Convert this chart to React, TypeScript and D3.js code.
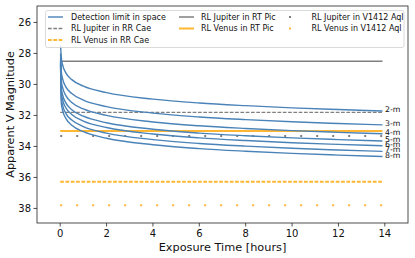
import React from "react";
import * as d3 from "d3";

const times = [1 / 60, 0.05, 0.1, 0.25, 0.5, 1, 2, 4, 6, 8, 10, 12, 13.9];
const curveNames = ["2-m", "3-m", "4-m", "5-m", "6-m", "7-m", "8-m"];
const curve2m = [27.5, 28.29, 28.71, 29.27, 29.69, 30.11, 30.53, 30.95, 31.2, 31.37, 31.51, 31.62, 31.71];
const curve3m = [28.0, 29.19, 29.61, 30.17, 30.59, 31.01, 31.43, 31.85, 32.1, 32.27, 32.41, 32.52, 32.61];
const curve4m = [28.3, 29.76, 30.18, 30.74, 31.16, 31.58, 32.0, 32.42, 32.67, 32.84, 32.98, 33.09, 33.18];
const curve5m = [28.5, 30.23, 30.65, 31.21, 31.63, 32.05, 32.47, 32.89, 33.14, 33.31, 33.45, 33.56, 33.65];
const curve6m = [28.6, 30.54, 30.96, 31.52, 31.94, 32.36, 32.78, 33.2, 33.45, 33.62, 33.76, 33.87, 33.96];
const curve7m = [28.7, 30.9, 31.32, 31.88, 32.3, 32.72, 33.14, 33.56, 33.81, 33.98, 34.12, 34.23, 34.32];
const curve8m = [28.8, 31.23, 31.65, 32.21, 32.63, 33.05, 33.47, 33.89, 34.14, 34.31, 34.45, 34.56, 34.65];
const curves = [curve2m, curve3m, curve4m, curve5m, curve6m, curve7m, curve8m];

const refSpan = [0, 13.9];
const jupiterRRCae = 31.8;
const venusRRCae = 36.28;
const jupiterRTPic = 28.5;
const venusRTPic = 33.0;
const jupiterV1412 = 33.33;
const venusV1412 = 37.8;

const xTicks = [0, 2, 4, 6, 8, 10, 12, 14];
const yTicks = [26, 28, 30, 32, 34, 36, 38];

const W = 415;
const H = 258;
const L = 37, R = 408, T = 6, B = 223;
const BLUE = "#4a83b8";
const GREY = "#808080";
const ORANGE = "#ffb733";
const FONT = "DejaVu Sans, sans-serif";

export default function App() {
  const x = d3.scaleLinear().domain([-1, 15]).range([L, R]);
  const y = d3.scaleLinear().domain([24.94, 38.94]).range([T, B]);
  const line = d3
    .line<number>()
    .x((_, i) => x(times[i]))
    .y((d) => y(d))
    .curve(d3.curveMonotoneX);

  const hline = (v: number) => ({ x1: x(refSpan[0]), x2: x(refSpan[1]), y1: y(v), y2: y(v) });

  const dotPeriod = x(0.69) - x(0);

  const legendRows = [17, 28.5, 40];
  return (
    <svg width={W} height={H} style={{ position: "absolute", left: 0, top: 0 }} fontFamily={FONT}>
      <rect x={0} y={0} width={W} height={H} fill="white" />
      {/* reference lines */}
      <line {...hline(jupiterRTPic)} stroke={GREY} strokeWidth={1.5} />
      <line {...hline(jupiterRRCae)} stroke={GREY} strokeWidth={1.3} strokeDasharray="3.7 1.6" />
      <line {...hline(venusRRCae)} stroke={ORANGE} strokeWidth={2} strokeDasharray="3.7 1.6" />
      <line {...hline(venusRTPic)} stroke={ORANGE} strokeWidth={2} />
      <line {...hline(jupiterV1412)} stroke={GREY} strokeWidth={2} strokeDasharray={`2 ${dotPeriod - 2}`} />
      <line {...hline(venusV1412)} stroke={ORANGE} strokeWidth={2} strokeDasharray={`2 ${dotPeriod - 2}`} />
      {/* curves */}
      {curves.map((c, i) => (
        <path key={i} d={line(c) || ""} fill="none" stroke={BLUE} strokeWidth={1.4} />
      ))}
      {curves.map((c, i) => (
        <text key={"l" + i} x={x(13.9) + 2.5} y={y(c[c.length - 1]) - 1.5} fontSize={7.8} dominantBaseline="central" fill="#111">
          {curveNames[i]}
        </text>
      ))}
      {/* spines */}
      <rect x={L} y={T} width={R - L} height={B - T} fill="none" stroke="#222" strokeWidth={0.8} />
      {/* x ticks */}
      {xTicks.map((t) => (
        <g key={"x" + t}>
          <line x1={x(t)} x2={x(t)} y1={B} y2={B + 3.5} stroke="#222" strokeWidth={0.8} />
          <text x={x(t)} y={B + 13.5} fontSize={10} textAnchor="middle" fill="#111">{t}</text>
        </g>
      ))}
      {yTicks.map((t) => (
        <g key={"y" + t}>
          <line x1={L - 3.5} x2={L} y1={y(t)} y2={y(t)} stroke="#222" strokeWidth={0.8} />
          <text x={L - 6} y={y(t)} fontSize={10} textAnchor="end" dominantBaseline="central" fill="#111">{t}</text>
        </g>
      ))}
      <text x={(L + R) / 2} y={251} fontSize={11.3} textAnchor="middle" fill="#111">Exposure Time [hours]</text>
      <text transform={`translate(10,${(T + B) / 2}) rotate(-90)`} fontSize={11.3} textAnchor="middle" dominantBaseline="central" fill="#111">Apparent V Magnitude</text>
      {/* legend */}
      <rect x={45.5} y={10.5} width={358.5} height={37} rx={2} fill="white" fillOpacity={0.8} stroke="#d0d0d0" strokeWidth={0.8} />
      <g fontSize={8} fill="#111">
        <line x1={48} x2={63} y1={legendRows[0]} y2={legendRows[0]} stroke={BLUE} strokeWidth={1.4} />
        <text x={71} y={legendRows[0]} dominantBaseline="central">Detection limit in space</text>
        <line x1={48} x2={63} y1={legendRows[1]} y2={legendRows[1]} stroke={GREY} strokeWidth={1.3} strokeDasharray="3.7 1.6" />
        <text x={71} y={legendRows[1]} dominantBaseline="central">RL Jupiter in RR Cae</text>
        <line x1={48} x2={63} y1={legendRows[2]} y2={legendRows[2]} stroke={ORANGE} strokeWidth={2} strokeDasharray="3.7 1.6" />
        <text x={71} y={legendRows[2]} dominantBaseline="central">RL Venus in RR Cae</text>

        <line x1={179} x2={194} y1={legendRows[0]} y2={legendRows[0]} stroke={GREY} strokeWidth={1.5} />
        <text x={201} y={legendRows[0]} dominantBaseline="central">RL Jupiter in RT Pic</text>
        <line x1={179} x2={194} y1={legendRows[1]} y2={legendRows[1]} stroke={ORANGE} strokeWidth={2} />
        <text x={201} y={legendRows[1]} dominantBaseline="central">RL Venus in RT Pic</text>

        <rect x={289} y={legendRows[0] - 1} width={2} height={2} fill={GREY} />
        <text x={311.5} y={legendRows[0]} dominantBaseline="central">RL Jupiter in V1412 Aql</text>
        <rect x={289} y={legendRows[1] - 1} width={2} height={2} fill={ORANGE} />
        <text x={311.5} y={legendRows[1]} dominantBaseline="central">RL Venus in V1412 Aql</text>
      </g>
    </svg>
  );
}
